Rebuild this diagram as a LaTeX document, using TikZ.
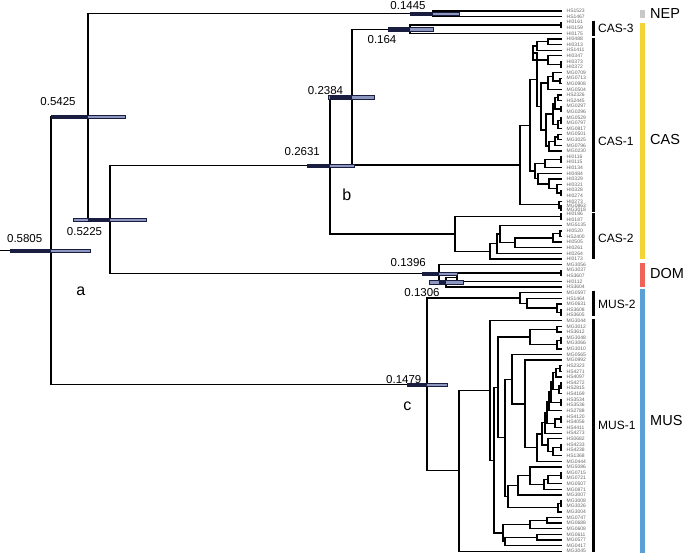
\documentclass[tikz,border=0pt]{standalone}
\usepackage{fontspec}
\setmainfont{Liberation Sans}
\usetikzlibrary{calc}

\definecolor{barlight}{RGB}{140,150,190}
\definecolor{bardark}{RGB}{25,30,65}
\definecolor{nepgray}{RGB}{200,200,200}
\definecolor{casyellow}{RGB}{242,212,50}
\definecolor{domred}{RGB}{238,98,88}
\definecolor{musblue}{RGB}{88,160,214}

\tikzset{
  branch/.style={line width=1.3pt},
  tiplabel/.style={anchor=west, inner sep=0pt, font=\fontsize{5}{5}\selectfont, text=black!60},
  agelabel/.style={inner sep=0pt, font=\fontsize{11.5}{12}\selectfont},
  cladelabel/.style={anchor=west, inner sep=0pt, font=\fontsize{12}{12}\selectfont},
  grouplabel/.style={anchor=west, inner sep=0pt, font=\fontsize{14.5}{15}\selectfont},
  letter/.style={inner sep=0pt, font=\fontsize{16}{16}\selectfont},
  cladebar/.style={line width=2.4pt},
}

% internal node: name, x, upper child, lower child
\newcommand\clade[4]{%
  \coordinate (#1-m) at ($(#3)!.5!(#4)$);
  \coordinate (#1) at (#2,0 |- #1-m);
  \draw[branch] (#3) -| (#1) |- (#4);
}
% age bar: node, left end, dark from, right end
\newcommand\hpd[4]{%
  \fill[barlight, draw=bardark, line width=.4pt]
    ($(#2,0 |- #1)+(0,-1.6)$) rectangle ($(#4,0 |- #1)+(0,1.6)$);
  \fill[bardark] ($(#3,0 |- #1)+(0,-1.6)$) rectangle ($(#1)+(0,1.6)$);
}

\begin{document}
\begin{tikzpicture}[x=1pt,y=-1pt]
\useasboundingbox (0,0) rectangle (685,554);

% tips
\foreach \n [count=\i] in {HS1523,HS1467,HI0161,HI0159,HI0175,HI0488,HI0313,HS1411,HI0347,HI0373,
  HI0372,MG0709,MG0713,MG0908,MG0504,HS2326,HS2445,MG0297,MG0296,MG0529,
  MG0797,MG0817,MG0501,MG3025,MG0796,MG0230,HI0116,HI0115,HI0134,HI0484,
  HI0329,HI0321,HI0328,HI0274,HI0273,MG0863,MG3018,HI0186,HI0187,MG5135,
  HI0520,HS2400,HI0505,HI0261,HI0264,HI0173,MG3056,MG3037,HS3607,HI0112,
  HS3604,MG0597,HS1464,MG0631,HS3608,HS3605,MG3044,MG3012,HS3612,MG3048,
  MG3066,MG3010,MG0565,MG0992,HS2323,HS4271,HS4097,HS4272,HS2815,HS4169,
  HS3534,HS3536,HS2788,HS4120,HS4056,HS4411,HS4273,HS0682,HS4233,HS4238,
  HS1368,MG0444,MG5086,MG0715,MG0721,MG0507,MG0871,MG3007,MG3008,MG3026,
  MG3004,MG0747,MG0688,MG0608,MG0611,MG0577,MG0417,MG3045} {
  \pgfmathsetmacro\ty{\i<36 ? 11+(\i-1)*5.6 : (\i==36 ? 205.7 : (\i==37 ? 210 : 214+(\i-38)*5.62))}
  \coordinate (t\i) at (562,\ty);
  \node[tiplabel] (l\i) at (566.5,\ty) {\n};
}

% NEP
\clade{nep}{433}{t1}{t2}
% CAS-3
\clade{c3a}{561}{t3}{t4}
\clade{n164}{410}{c3a}{t5}
% CAS-1
\clade{a1}{561}{t10}{t11}
\clade{a2}{548}{t9}{a1}
\clade{a3}{548}{t6}{t7}
\clade{a4}{537}{a3}{t8}
\clade{a5}{533}{a4}{a2}
\clade{b1}{560}{t13}{t14}
\clade{b2}{553}{t12}{b1}
\clade{b3}{548}{b2}{t15}
\clade{c1}{558}{t16}{t17}
\clade{c2}{561}{t18}{t19}
\clade{c3}{555}{c1}{c2}
\clade{c4}{561}{t20}{t21}
\clade{c5}{558}{c4}{t22}
\clade{c6}{553}{c3}{c5}
\clade{c7}{558}{t23}{t24}
\clade{c8}{555}{c7}{t25}
\clade{c9}{549}{c8}{t26}
\clade{c10}{546}{c6}{c9}
\clade{b4}{541}{b3}{c10}
\clade{u1}{537}{a5}{b4}
\clade{d1}{561}{t27}{t28}
\clade{d2}{545}{d1}{t29}
\clade{e1}{561}{t33}{t34}
\clade{e2}{557}{t32}{e1}
\clade{e3}{549}{t31}{e2}
\clade{e4}{538}{t30}{e3}
\clade{u2}{535}{d2}{e4}
\clade{u}{530}{u1}{u2}
\clade{f1}{561}{t36}{t37}
\clade{f2}{559}{t35}{f1}
\clade{cas1}{520}{u}{f2}
\clade{n2384}{352}{n164}{cas1}
% CAS-2
\clade{k0}{561}{t38}{t39}
\clade{k1}{560}{t41}{t42}
\clade{k2}{553}{k1}{t43}
\clade{k3}{515}{k2}{t44}
\clade{k4}{500}{t40}{k3}
\clade{k5}{497}{k4}{t45}
\clade{k6}{490}{k5}{t46}
\clade{cas2}{455}{k0}{k6}
\clade{n2631}{330}{n2384}{cas2}
% DOM
\clade{g1}{561}{t48}{t49}
\clade{g2}{457}{g1}{t50}
\clade{n1306}{446}{g2}{t51}
\clade{n1396}{439}{t47}{n1306}
\clade{n5225}{110}{n2631}{n1396}
\clade{n5425}{88}{nep}{n5225}
% MUS-2
\clade{m1}{561}{t55}{t56}
\clade{m2}{557}{t54}{m1}
\clade{m3}{527}{t53}{m2}
\clade{mus2}{520}{t52}{m3}
% MUS-1
\clade{q1}{561}{t60}{t61}
\clade{q2}{557}{q1}{t62}
\clade{q3}{557}{t58}{t59}
\clade{q4}{530}{q3}{q2}
\clade{h1}{560}{t65}{t66}
\clade{h2}{556}{h1}{t67}
\clade{h3}{561}{t68}{t69}
\clade{h4}{559}{h3}{t70}
\clade{h5}{553}{h2}{h4}
\clade{h6}{561}{t71}{t72}
\clade{h7}{551}{h5}{h6}
\clade{h8}{549}{h7}{t73}
\clade{h9}{561}{t74}{t75}
\clade{h10}{555}{h9}{t76}
\clade{h11}{547}{h8}{h10}
\clade{h12}{545}{h11}{t77}
\clade{h13}{561}{t79}{t80}
\clade{h14}{553}{h13}{t81}
\clade{h15}{548}{t78}{h14}
\clade{h16}{542}{h12}{h15}
\clade{s1}{537}{h16}{t82}
\clade{s2}{525}{t64}{s1}
\clade{r1}{512}{t63}{s2}
\clade{v1}{561}{t84}{t85}
\clade{v2}{548}{v1}{t86}
\clade{v3}{544}{v2}{t87}
\clade{v4}{530}{t83}{v3}
\clade{v5}{518}{v4}{t88}
\clade{w1}{561}{t89}{t90}
\clade{w2}{558}{w1}{t91}
\clade{v6}{508}{v5}{w2}
\clade{r2}{505}{r1}{v6}
\clade{p1}{498}{q4}{r2}
\clade{z1}{547}{t92}{t93}
\clade{z2}{530}{z1}{t94}
\clade{z3}{537}{t95}{t96}
\clade{z4}{505}{z3}{t97}
\clade{z5}{503}{z2}{z4}
\clade{p2}{494}{p1}{z5}
\clade{p3}{490}{t57}{p2}
\clade{mus1}{459}{p3}{t98}
\clade{n1479}{427}{mus2}{mus1}
% root
\clade{root}{51}{n5425}{n1479}
\draw[branch] (root) -- (0,0 |- root);

% age bars
\hpd{root}{10}{10}{90}
\hpd{n5425}{51}{51}{125}
\hpd{n5225}{73}{88}{146}
\hpd{n2631}{307}{307}{354}
\hpd{n2384}{328}{330}{374}
\hpd{n164}{388}{388}{433}
\hpd{nep}{410}{410}{459}
\hpd{n1306}{429}{439}{463}
\hpd{n1396}{422}{422}{457}
\hpd{n1479}{407}{407}{447}

% ages
\node[agelabel] at (24.7,238.3) {0.5805};
\node[agelabel] at (58,101.7) {0.5425};
\node[agelabel] at (84.5,231.7) {0.5225};
\node[agelabel] at (302.3,151.7) {0.2631};
\node[agelabel] at (325.5,90.7) {0.2384};
\node[agelabel] at (382,39.3) {0.164};
\node[agelabel] at (408,5.2) {0.1445};
\node[agelabel] at (408.3,262.7) {0.1396};
\node[agelabel] at (422,292.3) {0.1306};
\node[agelabel] at (403.8,380) {0.1479};
\node[letter] at (80.7,291.7) {a};
\node[letter] at (346.7,195) {b};
\node[letter] at (407.3,406.7) {c};

% clade bars
\draw[cladebar] (593.5,20.7) -- (593.5,35.5);
\draw[cladebar] (593.5,38.3) -- (593.5,211.7);
\draw[cladebar] (593.5,213.3) -- (593.5,258.8);
\draw[cladebar] (593.5,290.7) -- (593.5,316);
\draw[cladebar] (593.5,319.3) -- (593.5,551.7);
\node[cladelabel] at (598,28) {CAS-3};
\node[cladelabel] at (598,141.5) {CAS-1};
\node[cladelabel] at (598,238) {CAS-2};
\node[cladelabel] at (598,304) {MUS-2};
\node[cladelabel] at (598,425) {MUS-1};

% groups
\fill[nepgray] (640,9.5) rectangle (645,18);
\fill[casyellow] (640,22.5) rectangle (645,259);
\fill[domred] (640,263) rectangle (645,286.5);
\fill[musblue] (640,289) rectangle (645,553);
\node[grouplabel] at (650,13.8) {NEP};
\node[grouplabel] at (650,140) {CAS};
\node[grouplabel] at (650,274) {DOM};
\node[grouplabel] at (650,421) {MUS};
\end{tikzpicture}
\end{document}
